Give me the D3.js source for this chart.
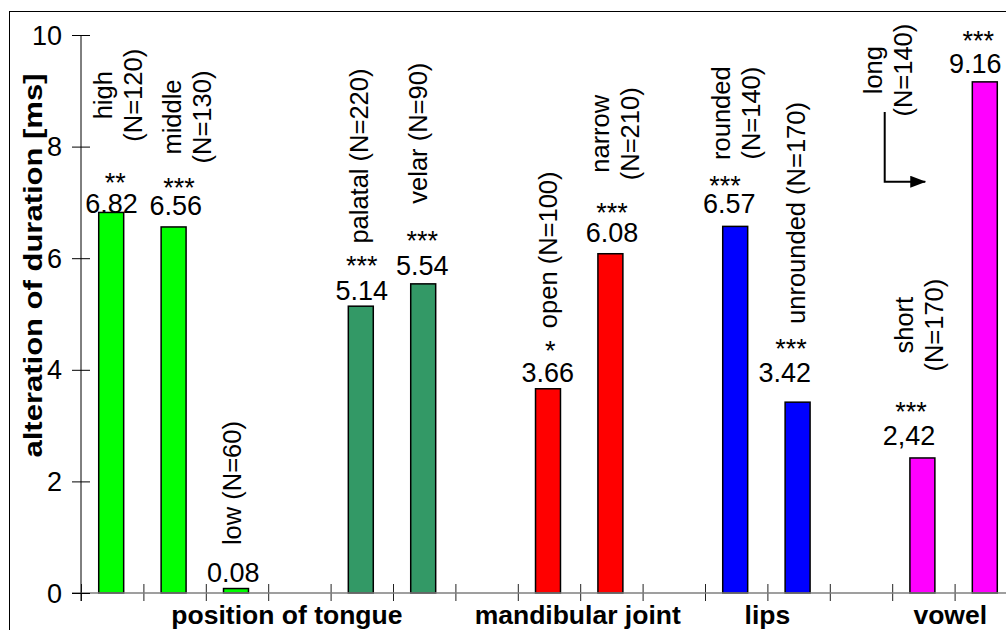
<!DOCTYPE html>
<html>
<head>
<meta charset="utf-8">
<script src="https://cdn.jsdelivr.net/npm/d3@7"></script>
<style>
  html, body { margin: 0; padding: 0; background: #fff; }
  svg { display: block; }
  text { font-family: "Liberation Sans", Arial, sans-serif; fill: #000; }
</style>
</head>
<body>
<svg id="chart" width="1006" height="630"></svg>
<script>
// ---- data ----
const categories = ["high", "middle", "low", "", "palatal", "velar", "", "open", "narrow", "", "rounded", "unrounded", "", "short", "long"];
const counts     = ["(N=120)", "(N=130)", "(N=60)", null, "(N=220)", "(N=90)", null, "(N=100)", "(N=210)", null, "(N=140)", "(N=170)", null, "(N=170)", "(N=140)"];
const values     = [6.82, 6.56, 0.08, null, 5.14, 5.54, null, 3.66, 6.08, null, 6.57, 3.42, null, 2.42, 9.16];
const valueText  = ["6.82", "6.56", "0.08", null, "5.14", "5.54", null, "3.66", "6.08", null, "6.57", "3.42", null, "2,42", "9.16"];
const stars      = ["**", "***", "", null, "***", "***", null, "*", "***", null, "***", "***", null, "***", "***"];
const twoLine    = [true, true, false, null, false, false, null, false, true, null, true, false, null, true, true];
const groups     = ["position of tongue", "mandibular joint", "lips", "vowel"];
const groupAt    = [3.3, 7.96, 11.0, 13.93];           // category-slot position of each group label
const barColors  = ["#00FF00", "#00FF00", "#00FF00", null, "#339966", "#339966", null, "#FF0000", "#FF0000", null, "#0000FF", "#0000FF", null, "#FF00FF", "#FF00FF"];
const yTicks     = [0, 2, 4, 6, 8, 10];
const yTitle     = "alteration of duration [ms]";

// annotation placement (slot units / data units)
const nameSlot   = [0.59, 1.70, 2.42, null, 4.46, 5.40, null, 7.48, 8.56, null, 10.50, 11.46, null, 13.43, 12.93];
const nameY      = [8.92, 8.53, 1.97, null, 7.83, 8.24, null, 6.15, 8.23, null, 8.60, 6.81, null, 4.80, 9.37];
const valueSlot  = [0.49, 1.52, 2.44, null, 4.50, 5.47, null, 7.48, 8.51, null, 10.39, 11.28, null, 13.27, 14.33];
const valueY     = [6.81, 6.77, 0.20, null, 5.25, 5.70, null, 3.78, 6.29, null, 6.81, 3.78, null, 2.65, 9.32];
const starsSlot  = [0.55, 1.57, null, null, 4.50, 5.47, null, 7.52, 8.51, null, 10.32, 11.38, null, 13.30, 14.38];
const starsY     = [7.18, 7.09, null, null, 5.69, 6.14, null, 4.18, 6.64, null, 7.14, 4.22, null, 3.09, 9.74];
const arrowPts   = [[12.88, 8.62], [12.88, 7.37], [13.53, 7.37]];

(function () {
const svg = d3.select("#chart");
const pL = 81, pR = 1017, pT = 35, pB = 593;
const FS = 27, FSN = 25.5;

const idx = d3.range(categories.length);
const x = d3.scaleBand().domain(idx).range([pL, pR]);
const xs = d3.scaleLinear().domain([0, categories.length]).range([pL, pR]);
const y = d3.scaleLinear().domain([0, 10]).range([pB, pT]);

// outer frame
svg.append("rect").attr("x", 9.5).attr("y", 11.5).attr("width", 1010).attr("height", 640)
  .attr("fill", "none").attr("stroke", "#000").attr("stroke-width", 1);

// bars
const bw = x.bandwidth() * 0.4;
svg.append("g").selectAll("rect")
  .data(idx.filter(i => values[i] !== null))
  .join("rect")
  .attr("x", i => x(i) + (x.bandwidth() - bw) / 2 - 1)
  .attr("width", bw)
  .attr("y", i => y(values[i]))
  .attr("height", i => y(0) - y(values[i]))
  .attr("fill", i => barColors[i])
  .attr("stroke", "#000")
  .attr("stroke-width", 1.5);

// x axis
const xAxis = d3.axisBottom(xs).tickValues(d3.range(0, categories.length + 1)).tickSize(0).tickFormat("");
const gx = svg.append("g").attr("transform", `translate(0,${pB})`).call(xAxis);
gx.select(".domain").remove();
svg.append("line").attr("x1", 72).attr("x2", 1010).attr("y1", pB).attr("y2", pB)
  .attr("stroke", "#7f7f7f").attr("stroke-width", 1.5);
gx.selectAll(".tick line").attr("y1", -9).attr("y2", 8).attr("stroke", "#222").attr("stroke-width", 1);

// y axis
const yAxis = d3.axisLeft(y).tickValues(yTicks).tickSize(0).tickPadding(0).tickFormat(d3.format("d"));
const gy = svg.append("g").attr("transform", `translate(${pL},0)`).call(yAxis);
gy.select(".domain").attr("d", `M0,${pT}V${pB + 8}`).attr("stroke", "#000").attr("stroke-width", 1);
gy.selectAll(".tick line").attr("x1", -9).attr("x2", 9).attr("stroke", "#000").attr("stroke-width", 1);
gy.selectAll(".tick text").attr("x", -19).attr("dy", null).attr("dominant-baseline", "central")
  .attr("font-size", FS).attr("font-family", "Liberation Sans, Arial, sans-serif").attr("fill", "#000");

// y title
svg.append("text")
  .attr("transform", `translate(42,${(73 + 458) / 2}) rotate(-90)`)
  .attr("text-anchor", "middle")
  .attr("font-size", 26).attr("font-weight", "bold")
  .attr("textLength", 384).attr("lengthAdjust", "spacingAndGlyphs")
  .text(yTitle);

// group labels
svg.append("g").selectAll("text").data(groups).join("text")
  .attr("x", (d, i) => xs(groupAt[i]))
  .attr("y", 624)
  .attr("text-anchor", "middle")
  .attr("font-size", 26.5).attr("font-weight", "bold")
  .text(d => d);

// value labels with significance stars (one label per bar)
const vl = svg.append("g").selectAll("text").data(idx.filter(i => valueText[i])).join("text")
  .attr("text-anchor", "middle")
  .attr("font-size", FS);
vl.each(function (i) {
  const t = d3.select(this);
  if (stars[i]) {
    t.append("tspan").attr("x", xs(starsSlot[i])).attr("y", y(starsY[i])).text(stars[i]);
  }
  t.append("tspan").attr("x", xs(valueSlot[i])).attr("y", y(valueY[i])).text(valueText[i]);
});

// rotated category names
const names = svg.append("g").selectAll("text").data(idx.filter(i => categories[i])).join("text")
  .attr("transform", i => `translate(${xs(nameSlot[i])},${y(nameY[i])}) rotate(-90)`)
  .attr("text-anchor", "middle")
  .attr("dominant-baseline", "central")
  .attr("font-size", FSN);
names.each(function (i) {
  const t = d3.select(this);
  const lines = twoLine[i] ? [categories[i], counts[i]] : [categories[i] + " " + counts[i]];
  const lh = 30;
  lines.forEach((s, k) => {
    t.append("tspan")
      .attr("x", 0)
      .attr("y", (k - (lines.length - 1) / 2) * lh)
      .text(s);
  });
});

// arrow annotation
const defs = svg.append("defs");
defs.append("marker").attr("id", "ah").attr("viewBox", "0 0 16 12").attr("refX", 15).attr("refY", 6)
  .attr("markerWidth", 16).attr("markerHeight", 12).attr("markerUnits", "userSpaceOnUse").attr("orient", "auto")
  .append("path").attr("d", "M0,0L16,6L0,12Z").attr("fill", "#000");
svg.append("path")
  .attr("d", d3.line().x(d => xs(d[0])).y(d => y(d[1]))(arrowPts))
  .attr("fill", "none").attr("stroke", "#000").attr("stroke-width", 2)
  .attr("marker-end", "url(#ah)");
})();
</script>
</body>
</html>
